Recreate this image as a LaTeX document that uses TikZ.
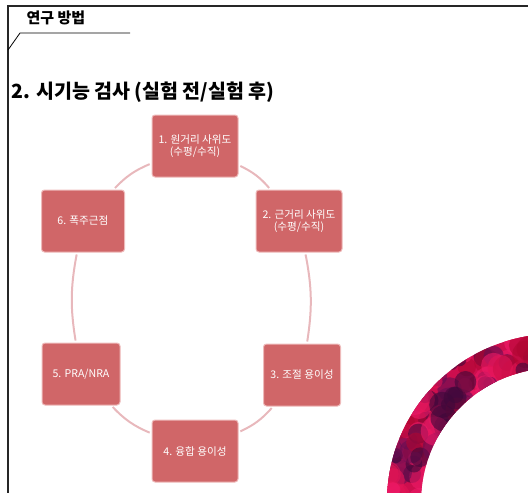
\documentclass[tikz,border=0pt]{standalone}
\usepackage{fontspec}
\setmainfont{Noto Sans CJK KR}
\usetikzlibrary{positioning,calc}
\definecolor{BoxRed}{RGB}{208, 102, 104}
\definecolor{BoxEdge}{RGB}{238, 186, 186}
\definecolor{LinkPink}{RGB}{232, 184, 188}
\definecolor{RingBase}{RGB}{205, 14, 78}
\definecolor{Blob0}{RGB}{62, 8, 58}
\definecolor{Blob1}{RGB}{238, 26, 104}
\definecolor{Blob2}{RGB}{176, 6, 50}
\definecolor{Blob3}{RGB}{100, 14, 82}
\definecolor{Blob4}{RGB}{226, 20, 86}

\tikzset{
  stage/.style={draw=BoxEdge, line width=1pt, fill=BoxRed, rounded corners=3pt,
    minimum width=86pt, minimum height=62pt, text=white, align=center,
    font=\fontsize{10.6}{12.6}\selectfont, inner sep=2pt},
  link/.style={LinkPink, line width=2pt, shorten >=2pt, shorten <=2pt}
}

\begin{document}
\begin{tikzpicture}[x=1pt, y=-1pt]
\useasboundingbox (0,0) rectangle (528,493);

% Frame and header
\draw[line width=1.6pt, black!85] (528,6) -- (8,6) -- (8,493);
\draw[line width=0.8pt] (8,50) -- (20,33) -- (130,33);
\node[anchor=west, font=\bfseries\fontsize{15}{17}\selectfont] (section) at (23,18) {연구 방법};
\node[anchor=west, font=\bfseries\fontsize{19.5}{22}\selectfont] (title) at (8,92) {2. 시기능 검사 (실험 전/실험 후)};

% Decorative ring
\begin{scope}[even odd rule]
\clip (555,502) circle (168) (555,502) circle (134);
\fill[RingBase] (380,320) rectangle (528,493);
\pgfmathsetseed{7}
\foreach \i in {1,...,130} {
  \pgfmathsetmacro{\ang}{168+112*rnd}
  \pgfmathsetmacro{\rad}{128+46*rnd}
  \pgfmathsetmacro{\sz}{6+9*rnd}
  \pgfmathtruncatemacro{\k}{int(4.99*rnd)}
  \fill[Blob\k, opacity=0.6] ($(555,502)+(\ang:\rad)$) circle (\sz);
}
\end{scope}

% Cycle stages
\node[stage] (n1) at (195,146) {1. 원거리 사위도\\(수평/수직)};
\node[stage] (n2) at (299,221) {2. 근거리 사위도\\(수평/수직)};
\node[stage, minimum width=77pt] (n3) at (302,375) {3. 조절 용이성};
\node[stage] (n4) at (195,451) {4. 융합 용이성};
\node[stage, minimum width=78pt] (n5) at (81,374) {5. PRA/NRA};
\node[stage, minimum width=83pt] (n6) at (83,221) {6. 폭주근점};

% Connectors
\draw[link] (n1) to[bend left=12] (n2);
\draw[link] (n2) to[bend left=10] (n3);
\draw[link] (n3) to[bend left=12] (n4);
\draw[link] (n4) to[bend left=12] (n5);
\draw[link] (n5) to[bend left=10] (n6);
\draw[link] (n6) to[bend left=12] (n1);
\end{tikzpicture}
\end{document}
